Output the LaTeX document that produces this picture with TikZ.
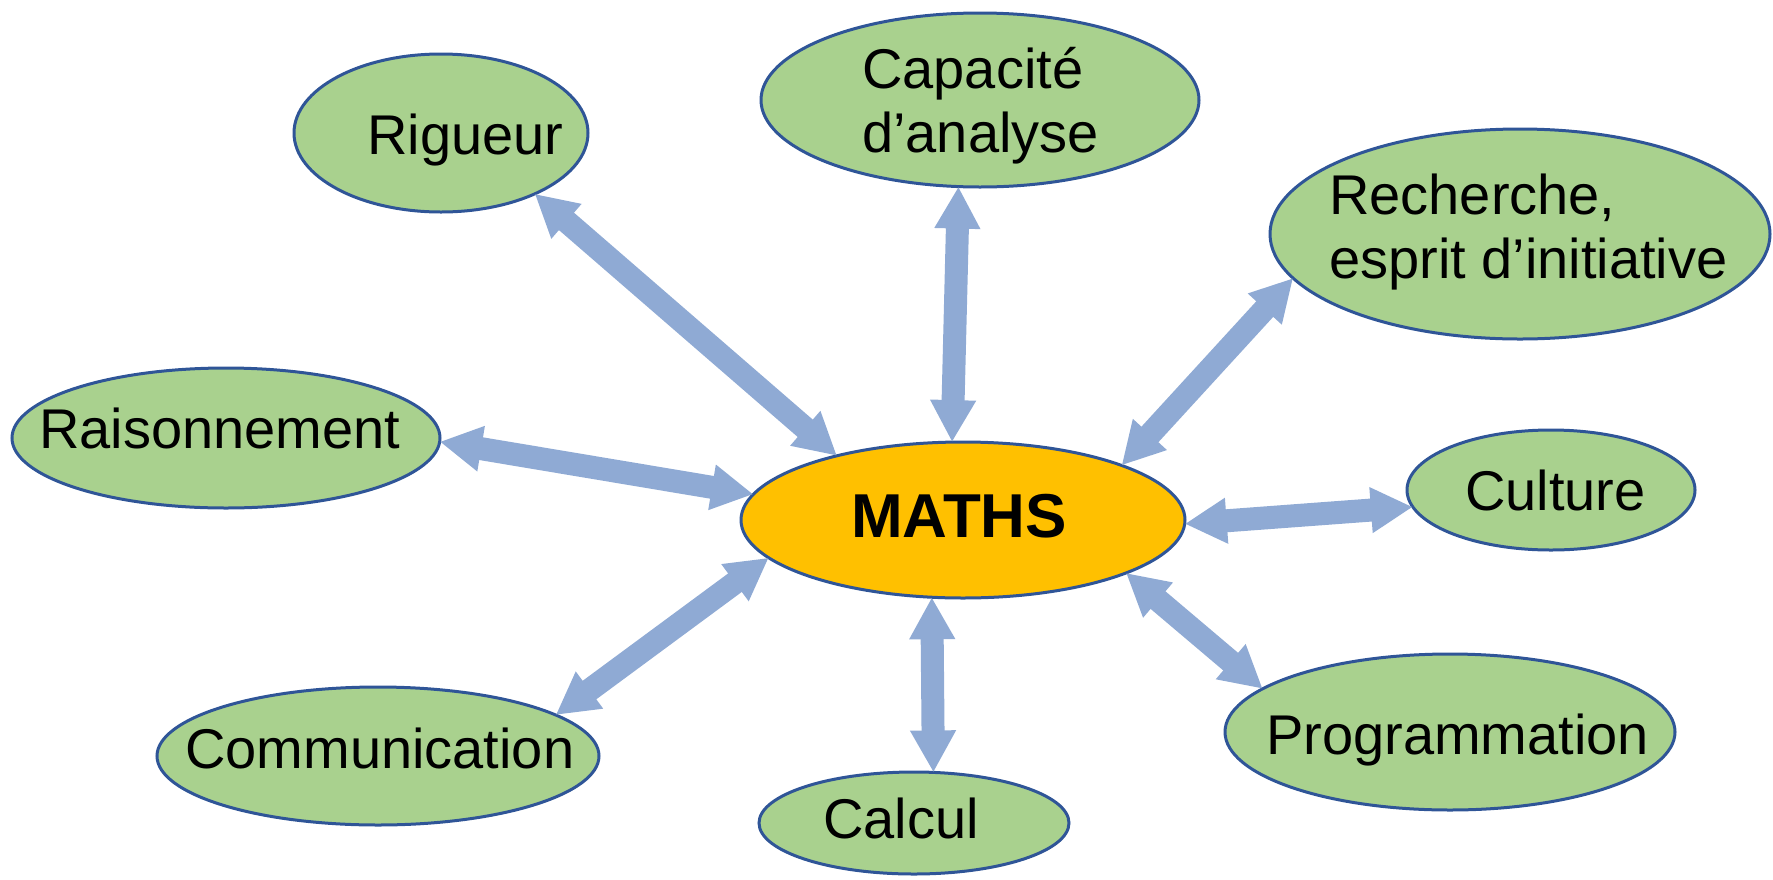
\documentclass[tikz,border=0pt]{standalone}
\usepackage{fontspec}
\setmainfont{Liberation Sans}
\usetikzlibrary{arrows.meta,shapes.geometric}
\definecolor{bubblegreen}{RGB}{169,209,142}
\definecolor{mathsgold}{RGB}{255,192,0}
\definecolor{rimblue}{RGB}{47,85,151}
\definecolor{arrowblue}{RGB}{143,170,212}
\tikzset{
  bubble/.style={ellipse, draw=rimblue, line width=3pt, fill=bubblegreen, inner sep=0pt, outer sep=0pt},
  lbl/.style={anchor=base west, inner sep=0pt, font=\fontsize{56}{64}\selectfont, align=left},
  conn/.style={line width=23pt, draw=arrowblue,
    {Triangle[length=42pt,width=43pt]}-{Triangle[length=42pt,width=43pt]}}
}
\begin{document}
\begin{tikzpicture}[x=1pt,y=-1pt]
\useasboundingbox (0,0) rectangle (1773,879);
% ellipses
\node[bubble, minimum width=294pt, minimum height=158pt] (rig) at (441,133) {};
\node[bubble, minimum width=438pt, minimum height=174pt] (cap) at (980,100) {};
\node[bubble, minimum width=500pt, minimum height=210pt] (rech) at (1520,234) {};
\node[bubble, minimum width=428pt, minimum height=140pt] (rais) at (226,438) {};
\node[bubble, fill=mathsgold, minimum width=444pt, minimum height=156pt] (maths) at (963,520) {};
\node[bubble, minimum width=288pt, minimum height=120pt] (cult) at (1551,490) {};
\node[bubble, minimum width=442pt, minimum height=138pt] (comm) at (378,756) {};
\node[bubble, minimum width=310pt, minimum height=102pt] (calc) at (914,823) {};
\node[bubble, minimum width=450pt, minimum height=156pt] (prog) at (1450,732) {};
% texts
\node[lbl] (rig-t) at (367,154) {Rigueur};
\node[lbl] (cap-t) at (862,152) {Capacité\\d’analyse};
\node[lbl] (rech-t) at (1329,278) {Recherche,\\esprit d’initiative};
\node[lbl] (rais-t) at (39,448) {Raisonnement};
\node[lbl, font=\fontsize{62}{70}\selectfont\bfseries] (maths-t) at (851,537) {MATHS};
\node[lbl] (cult-t) at (1465,510) {Culture};
\node[lbl] (comm-t) at (185,768) {Communication};
\node[lbl] (calc-t) at (823,838) {Calcul};
\node[lbl] (prog-t) at (1266,754) {Programmation};
% connectors
\draw[conn] (rig.-33.4) -- (maths.153.6);
\draw[conn] (cap.-104) -- (maths.98.5);
\draw[conn] (rech.191.3) -- (maths.19.2);
\draw[conn] (rais.-1.3) -- (maths.173.5);
\draw[conn] (cult.187.2) -- (maths.-1.8);
\draw[conn] (comm.13) -- (maths.-169.2);
\draw[conn] (calc.69.6) -- (maths.-112.7);
\draw[conn] (prog.167.6) -- (maths.-18.9);
\end{tikzpicture}
\end{document}
